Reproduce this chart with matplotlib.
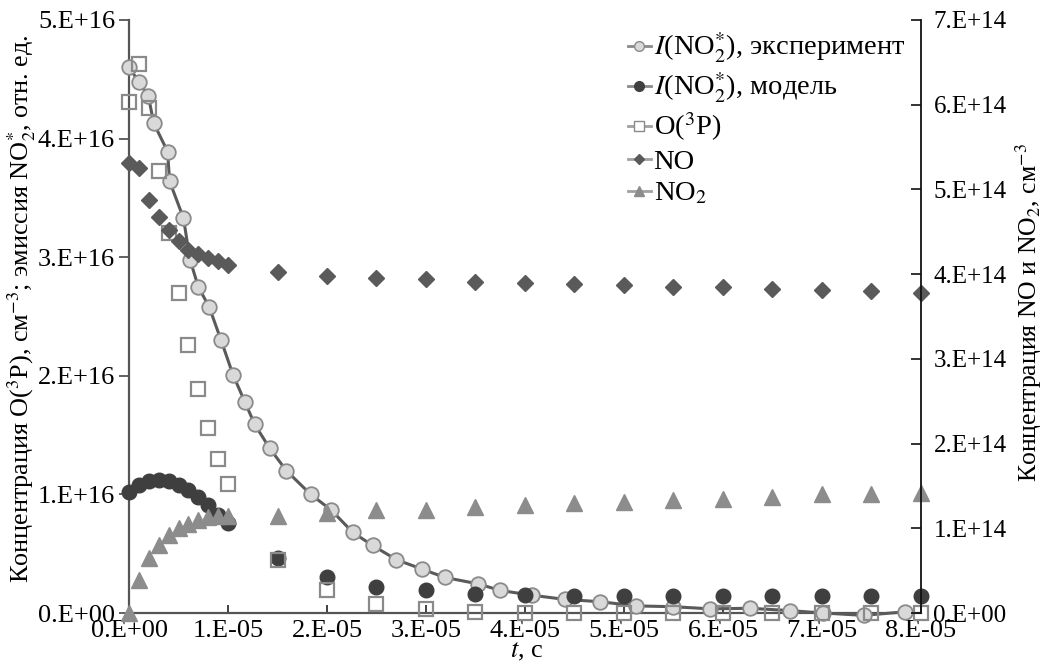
import numpy as np
import matplotlib
matplotlib.use('Agg')
import matplotlib.pyplot as plt
from matplotlib.lines import Line2D

plt.rcParams['font.family'] = ['Liberation Serif', 'DejaVu Serif']
plt.rcParams['mathtext.fontset'] = 'stix'

# ---------------- data ----------------
# experiment: time in microseconds, intensity in 1e16
t_exp = [0.0, 1.0, 1.95, 2.5, 3.9, 4.1, 5.5, 6.16, 7.0, 8.1, 9.3, 10.5, 11.7, 12.7,
         14.2, 15.9, 18.35, 20.4, 22.6, 24.6, 27.0, 29.6, 31.9, 35.3, 37.5, 40.7,
         44.0, 47.6, 51.2, 55.0, 58.7, 62.7, 66.8, 70.1, 74.2, 78.4]
i_exp = [4.60, 4.48, 4.36, 4.13, 3.89, 3.64, 3.33, 2.98, 2.75, 2.58, 2.30, 2.01, 1.78, 1.59,
         1.39, 1.20, 1.00, 0.87, 0.68, 0.57, 0.45, 0.37, 0.30, 0.245, 0.19, 0.15,
         0.115, 0.095, 0.06, 0.053, 0.035, 0.04, 0.02, 0.0, -0.02, 0.01]

# model: time in microseconds
t_model = [0, 1, 2, 3, 4, 5, 6, 7, 8, 9, 10, 15, 20, 25, 30, 35, 40, 45, 50, 55, 60, 65, 70, 75, 80]
i_model = [1.02, 1.08, 1.11, 1.12, 1.11, 1.08, 1.04, 0.98, 0.91, 0.83, 0.76,
           0.46, 0.30, 0.22, 0.19, 0.16, 0.15, 0.145, 0.145, 0.14, 0.14, 0.14, 0.14, 0.14, 0.14]
o3p = [4.31, 4.63, 4.26, 3.73, 3.20, 2.70, 2.26, 1.89, 1.56, 1.30, 1.09,
       0.45, 0.19, 0.076, 0.03, 0.01, 0.0, 0.0, 0.0, 0.0, 0.0, 0.0, 0.0, 0.0, 0.0]
# right axis, in 1e14
no = [5.31, 5.25, 4.88, 4.67, 4.52, 4.39, 4.29, 4.24, 4.19, 4.15, 4.11,
      4.03, 3.98, 3.96, 3.94, 3.91, 3.90, 3.88, 3.87, 3.85, 3.85, 3.82, 3.81, 3.80, 3.78]
no2 = [0.0, 0.39, 0.65, 0.80, 0.92, 1.00, 1.05, 1.10, 1.13, 1.145, 1.15,
       1.14, 1.18, 1.21, 1.22, 1.25, 1.275, 1.295, 1.31, 1.33, 1.35, 1.37, 1.40, 1.41, 1.42]

x_ticks = [0, 1e-5, 2e-5, 3e-5, 4e-5, 5e-5, 6e-5, 7e-5, 8e-5]
x_labels = ['0.E+00', '1.E-05', '2.E-05', '3.E-05', '4.E-05', '5.E-05', '6.E-05', '7.E-05', '8.E-05']
yl_ticks = [0, 1e16, 2e16, 3e16, 4e16, 5e16]
yl_labels = ['0.E+00', '1.E+16', '2.E+16', '3.E+16', '4.E+16', '5.E+16']
yr_ticks = [0, 1e14, 2e14, 3e14, 4e14, 5e14, 6e14, 7e14]
yr_labels = ['0.E+00', '1.E+14', '2.E+14', '3.E+14', '4.E+14', '5.E+14', '6.E+14', '7.E+14']

lab_exp = r'$\mathit{I}$(NO$_2^{*}$), эксперимент'
lab_mod = r'$\mathit{I}$(NO$_2^{*}$), модель'
lab_o3p = r'O($^{3}$P)'
lab_no = 'NO'
lab_no2 = r'NO$_2$'

# ---------------- plot ----------------
fig = plt.figure(figsize=(10.44, 6.67), dpi=100)
W, H = 1044, 667
ax = fig.add_axes([129 / W, 1 - 613 / H, (921 - 129) / W, (613 - 20) / H])
ax2 = ax.twinx()

te = np.array(t_exp) * 1e-6
tm = np.array(t_model) * 1e-6

c_exp_line = '#5a5a5a'
ax.plot(te, np.array(i_exp) * 1e16, '-o', color=c_exp_line, lw=2.2, mfc='#d9d9d9',
        mec='#8a8a8a', mew=1.3, ms=10.5, clip_on=False, zorder=3)
ax.plot(tm, np.array(i_model) * 1e16, 'o', ls='none', mfc='#3f3f3f', mec='#3f3f3f',
        ms=10.5, clip_on=False, zorder=4)
ax.plot(tm, np.array(o3p) * 1e16, 's', ls='none', mfc='none', mec='#8a8a8a',
        mew=1.6, ms=10, clip_on=False, zorder=5)
ax2.plot(tm, np.array(no) * 1e14, 'D', ls='none', color='#5a5a5a', ms=8.5, clip_on=False)
ax2.plot(tm, np.array(no2) * 1e14, '^', ls='none', color='#8c8c8c', ms=11, clip_on=False)

ax.set_xlim(0, 8e-5)
ax.set_ylim(0, 5e16)
ax2.set_ylim(0, 7e14)
ax.set_xticks(x_ticks)
ax.set_xticklabels(x_labels)
ax.set_yticks(yl_ticks)
ax.set_yticklabels(yl_labels)
ax2.set_yticks(yr_ticks)
ax2.set_yticklabels(yr_labels)

for a in (ax, ax2):
    a.spines['top'].set_visible(False)
ax.spines['right'].set_visible(False)
ax2.spines['left'].set_visible(False)
ax2.spines['bottom'].set_visible(False)
ax.spines['left'].set_color('#555555')
ax.spines['left'].set_linewidth(1.6)
ax.spines['bottom'].set_color('#555555')
ax.spines['bottom'].set_linewidth(1.6)
ax2.spines['right'].set_color('#111111')
ax2.spines['right'].set_linewidth(1.3)

ax.tick_params(axis='y', direction='out', length=7, width=1.3, color='#555555',
               labelsize=19, pad=3)
ax.tick_params(axis='x', direction='in', length=6, width=1.3, color='#333333',
               labelsize=19, pad=5)
ax2.tick_params(axis='y', direction='in', length=7, width=1.2, color='#111111',
                labelsize=18, pad=9)

fig.text(22 / W, 1 - 309 / H,
         r'Концентрация O($^{3}$P), см$^{-3}$; эмиссия NO$_2^{*}$, отн. ед.',
         rotation=90, ha='center', va='center', fontsize=18.8)
fig.text(1029 / W, 1 - 312 / H, r'Концентрация NO и NO$_2$, см$^{-3}$',
         rotation=90, ha='center', va='center', fontsize=18.5)
fig.text(527 / W, 1 - 652 / H, r'$\mathit{t}$, с', ha='center', va='center', fontsize=19)

handles = [
    Line2D([], [], color='#8a8a8a', lw=2, marker='o', mfc='#d9d9d9', mec='#8a8a8a', ms=7),
    Line2D([], [], color='#8a8a8a', lw=2, marker='o', mfc='#3f3f3f', mec='#3f3f3f', ms=7),
    Line2D([], [], color='#a0a0a0', lw=2, marker='s', mfc='white', mec='#8a8a8a', ms=6.5),
    Line2D([], [], color='#a0a0a0', lw=2, marker='D', mfc='#5a5a5a', mec='#5a5a5a', ms=5),
    Line2D([], [], color='#a0a0a0', lw=2, marker='^', mfc='#8c8c8c', mec='#8c8c8c', ms=7.5),
]
labels = [lab_exp, lab_mod, lab_o3p, lab_no, lab_no2]
leg = ax2.legend(handles, labels, loc='upper left', bbox_to_anchor=(628 / W, 1 - 31 / H),
                 bbox_transform=fig.transFigure, frameon=False, fontsize=20.5,
                 handlelength=0.8, handletextpad=0.1, labelspacing=0.2,
                 borderpad=0, borderaxespad=0)

fig.savefig('out.png', dpi=100)
